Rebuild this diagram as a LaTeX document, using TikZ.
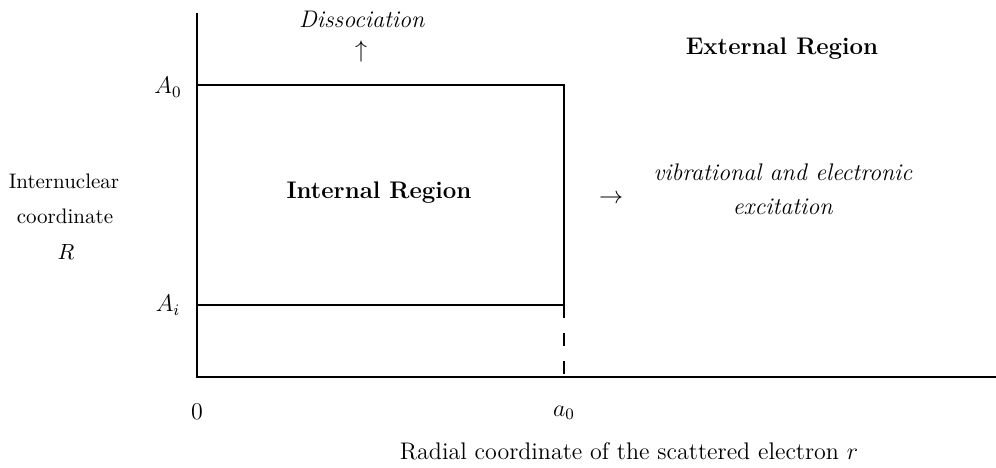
\documentclass[tikz,border=0pt]{standalone}
\begin{document}
\begin{tikzpicture}[x=0.5pt,y=-0.5pt,
  axis/.style={line width=1.4pt},
  lbl/.style={inner sep=0pt, align=center, font=\large},
  sidelbl/.style={inner sep=0pt, align=center, font=\fontsize{10.5}{12}\selectfont},
  dashline/.style={line width=1.4pt, dash pattern=on 6.5pt off 7.5pt}]
\useasboundingbox (0,0) rectangle (996,467);
% axes
\coordinate (top) at (197,13);
\coordinate (origin) at (197,377);
\coordinate (xend) at (996,377);
\draw[axis] (top) -- (origin) -- (xend);
% box
\coordinate (boxTL) at (197,85);
\coordinate (boxTR) at (564,85);
\coordinate (boxBR) at (564,305);
\coordinate (boxBL) at (197,305);
\coordinate (a0axis) at (564,377);
\draw[axis] (boxTL) -- (boxTR) -- (boxBR) -- (boxBL);
\draw[dashline] (boxBR) -- (a0axis);
% labels
\node[lbl] (diss) at (362,19) {\textit{Dissociation}};
\node[lbl] (up) at (361,51) {$\uparrow$};
\node[lbl] (ext) at (782,49) {\textbf{External Region}};
\node[lbl] (A0) at (168,87) {$A_0$};
\node[lbl] (Ai) at (168,305) {$A_i$};
\node[sidelbl] (inl1) at (64,181) {Internuclear};
\node[sidelbl] (inl2) at (65,216) {coordinate};
\node[sidelbl] (inl3) at (66,252) {$R$};
\node[lbl] (intr) at (379,193) {\textbf{Internal Region}};
\node[lbl] (rarr) at (611,199) {$\rightarrow$};
\node[lbl] (vib1) at (783,172) {\textit{vibrational and electronic}};
\node[lbl] (vib2) at (783,207) {\textit{excitation}};
\node[lbl] (zero) at (197,412) {$0$};
\node[lbl] (a0) at (564,413) {$a_0$};
\node[lbl] (radial) at (629,451) {Radial coordinate of the scattered electron $r$};
\end{tikzpicture}
\end{document}
